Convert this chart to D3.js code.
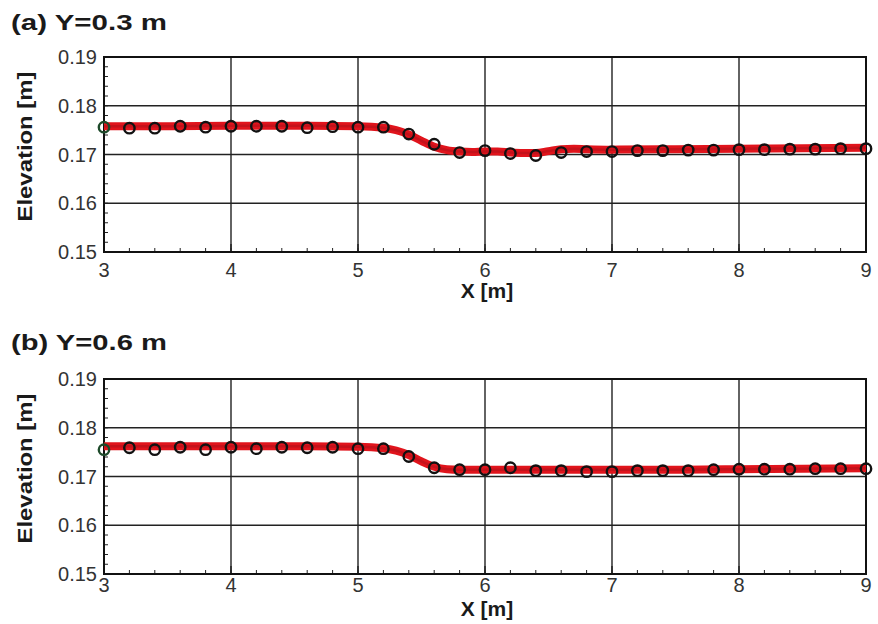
<!DOCTYPE html>
<html>
<head>
<meta charset="utf-8">
<script src="https://cdn.jsdelivr.net/npm/d3@7"></script>
<style>
  html, body { margin: 0; padding: 0; background: #fff; }
  svg { display: block; font-family: Arial, "Liberation Sans", Helvetica, sans-serif; }
</style>
</head>
<body>
<svg id="chart" width="878" height="624"></svg>
<script>
// ---------------- data ----------------
const panelTitles = ["(a) Y=0.3 m", "(b) Y=0.6 m"];
const xTicks = [3, 4, 5, 6, 7, 8, 9];
const yTicks = [0.15, 0.16, 0.17, 0.18, 0.19];
const yTickLabels = ["0.15", "0.16", "0.17", "0.18", "0.19"];
const xLabel = "X [m]";
const yLabel = "Elevation [m]";

// measured points (open circles)
const pointX = [3.0, 3.2, 3.4, 3.6, 3.8, 4.0, 4.2, 4.4, 4.6, 4.8, 5.0, 5.2, 5.4, 5.6, 5.8, 6.0,
                6.2, 6.4, 6.6, 6.8, 7.0, 7.2, 7.4, 7.6, 7.8, 8.0, 8.2, 8.4, 8.6, 8.8, 9.0];
const pointsA = [0.1756, 0.1754, 0.1754, 0.1758, 0.1756, 0.1758, 0.1758, 0.1758, 0.1755, 0.1757, 0.1756,
                 0.1756, 0.1742, 0.1721, 0.1704, 0.1708, 0.1702, 0.1698, 0.1704, 0.1706, 0.1706,
                 0.1708, 0.1708, 0.1709, 0.1709, 0.1710, 0.1710, 0.1711, 0.1711, 0.1712, 0.1712];
const pointsB = [0.1755, 0.1759, 0.1755, 0.1760, 0.1755, 0.1760, 0.1757, 0.1760, 0.1759, 0.1760, 0.1757,
                 0.1757, 0.1741, 0.1718, 0.1714, 0.1714, 0.1718, 0.1712, 0.1712, 0.1710, 0.1710,
                 0.1712, 0.1712, 0.1712, 0.1714, 0.1715, 0.1715, 0.1715, 0.1716, 0.1716, 0.1716];

// simulated profile (thick red line)
const lineX = [3.0, 3.5, 4.0, 4.5, 5.0, 5.2, 5.3, 5.4, 5.5, 5.6, 5.7, 5.8, 5.9, 6.0, 6.1, 6.2,
               6.3, 6.4, 6.5, 6.6, 6.7, 6.8, 7.0, 7.5, 8.0, 8.5, 9.0];
const lineA = [0.1758, 0.1758, 0.1759, 0.1759, 0.1758, 0.1755, 0.1750, 0.1741, 0.1728, 0.1716, 0.1709,
               0.1706, 0.1705, 0.1706, 0.1706, 0.1704, 0.1703, 0.1703, 0.1707, 0.1711, 0.1712,
               0.1711, 0.1710, 0.1711, 0.1712, 0.1713, 0.1714];
const lineB = [0.1762, 0.1762, 0.1762, 0.1762, 0.1761, 0.1758, 0.1753, 0.1744, 0.1731, 0.1720, 0.1715,
               0.1714, 0.1714, 0.1714, 0.1714, 0.1714, 0.1714, 0.1714, 0.1714, 0.1714, 0.1714,
               0.1714, 0.1714, 0.1714, 0.1715, 0.1716, 0.1717];

// ---------------- drawing ----------------
const svg = d3.select("#chart");
const X0 = 104, X1 = 866;
const panels = [
  { title: panelTitles[0], top: 57,  bottom: 252, pts: pointsA, line: lineA, titleY: 30,  tickDy: 25, xlabDy: 46 },
  { title: panelTitles[1], top: 379, bottom: 574, pts: pointsB, line: lineB, titleY: 350, tickDy: 18, xlabDy: 42 }
];

const x = d3.scaleLinear().domain([3, 9]).range([X0, X1]);

panels.forEach(p => {
  const y = d3.scaleLinear().domain([0.15, 0.19]).range([p.bottom, p.top]);
  const g = svg.append("g");

  // title
  g.append("text")
    .attr("x", 11).attr("y", p.titleY)
    .attr("font-size", 22).attr("font-weight", "bold").attr("fill", "#1a1a1a")
    .attr("textLength", 156).attr("lengthAdjust", "spacingAndGlyphs")
    .text(p.title);

  // grid
  g.append("g").selectAll("line").data(xTicks.slice(1, -1)).join("line")
    .attr("x1", d => x(d)).attr("x2", d => x(d))
    .attr("y1", p.top).attr("y2", p.bottom)
    .attr("stroke", "#222").attr("stroke-width", 1.4);
  g.append("g").selectAll("line").data(yTicks.slice(1, -1)).join("line")
    .attr("y1", d => y(d)).attr("y2", d => y(d))
    .attr("x1", X0).attr("x2", X1)
    .attr("stroke", "#222").attr("stroke-width", 1.4);

  // minor ticks (inward)
  const xMinor = d3.range(3, 9.0001, 0.2);
  g.append("g").selectAll("line").data(xMinor).join("line")
    .attr("x1", d => x(d)).attr("x2", d => x(d))
    .attr("y1", p.bottom).attr("y2", p.bottom - 4)
    .attr("stroke", "#222").attr("stroke-width", 1);
  const yMinor = d3.range(0.15, 0.19001, 0.002);
  g.append("g").selectAll("line").data(yMinor).join("line")
    .attr("y1", d => y(d)).attr("y2", d => y(d))
    .attr("x1", X0).attr("x2", X0 + 4)
    .attr("stroke", "#222").attr("stroke-width", 1);
  // major ticks
  g.append("g").selectAll("line").data(xTicks).join("line")
    .attr("x1", d => x(d)).attr("x2", d => x(d))
    .attr("y1", p.bottom).attr("y2", p.bottom - 8)
    .attr("stroke", "#222").attr("stroke-width", 1.4);

  // frame
  g.append("rect")
    .attr("x", X0).attr("y", p.top)
    .attr("width", X1 - X0).attr("height", p.bottom - p.top)
    .attr("fill", "none").attr("stroke", "#111").attr("stroke-width", 2);

  // simulated line
  const lineGen = d3.line().x((d, i) => x(lineX[i])).y(d => y(d)).curve(d3.curveMonotoneX);
  g.append("path").datum(p.line)
    .attr("d", lineGen)
    .attr("fill", "none").attr("stroke", "#e0141c").attr("stroke-width", 8)
    .attr("stroke-linejoin", "round").attr("stroke-linecap", "butt");
  g.append("path").datum(p.line)
    .attr("d", lineGen)
    .attr("fill", "none").attr("stroke", "#b0101a").attr("stroke-width", 2.5)
    .attr("stroke-opacity", 0.6);

  // points
  g.append("g").selectAll("circle").data(p.pts).join("circle")
    .attr("cx", (d, i) => x(pointX[i])).attr("cy", d => y(d))
    .attr("r", 5.2)
    .attr("fill", "none")
    .attr("stroke", (d, i) => i === 0 ? "#1d4a2a" : "#111")
    .attr("stroke-width", 2.4);

  // y tick labels
  g.append("g").selectAll("text").data(yTicks).join("text")
    .attr("x", 97).attr("y", d => y(d)).attr("dy", "0.36em")
    .attr("text-anchor", "end").attr("font-size", 20).attr("fill", "#333")
    .text((d, i) => yTickLabels[i]);

  // x tick labels
  g.append("g").selectAll("text").data(xTicks).join("text")
    .attr("x", d => x(d)).attr("y", p.bottom + p.tickDy)
    .attr("text-anchor", "middle").attr("font-size", 20).attr("fill", "#333")
    .text(d => d);

  // x label
  g.append("text")
    .attr("x", (X0 + X1) / 2 + 2).attr("y", p.bottom + p.xlabDy)
    .attr("text-anchor", "middle").attr("font-size", 21).attr("font-weight", "bold").attr("fill", "#1a1a1a")
    .text(xLabel);

  // y label
  const cy = (p.top + p.bottom) / 2 - 8;
  g.append("text")
    .attr("transform", `translate(32,${cy}) rotate(-90)`)
    .attr("text-anchor", "middle").attr("font-size", 20).attr("font-weight", "bold").attr("fill", "#1a1a1a")
    .attr("textLength", 150).attr("lengthAdjust", "spacingAndGlyphs")
    .text(yLabel);
});
</script>
</body>
</html>
